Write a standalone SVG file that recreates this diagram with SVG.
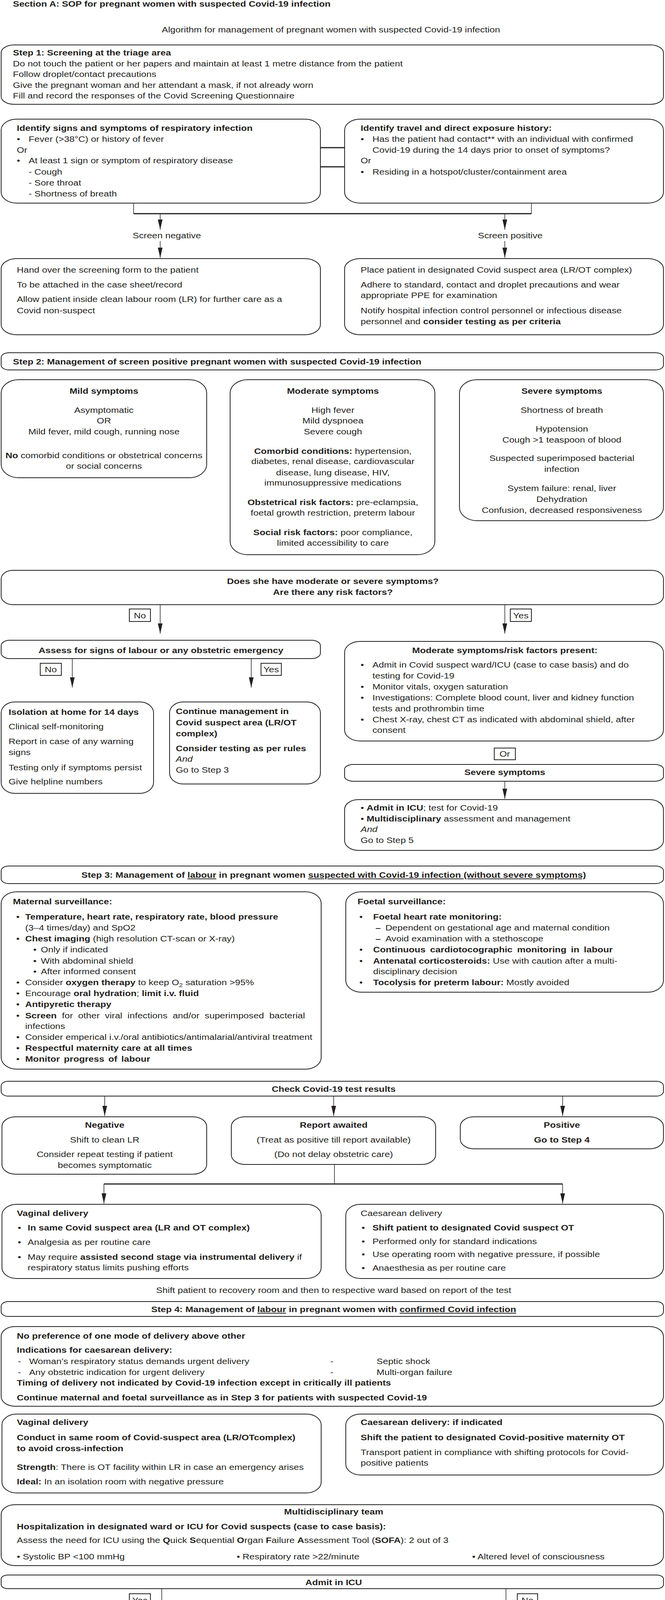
<svg xmlns="http://www.w3.org/2000/svg" width="1702" height="5280" viewBox="0 0 1702 5280">
<defs>
<style>
.t{font-family:"Liberation Sans",Arial,Helvetica,sans-serif;font-size:20px;fill:#231f20}
.b{font-weight:bold}
.i{font-style:italic}
.m{text-anchor:middle}
.u{text-decoration:underline}
.box{fill:#fff;stroke:#231f20;stroke-width:2}
.lbl{fill:#fff;stroke:#231f20;stroke-width:2}
.ln{fill:none;stroke:#231f20;stroke-width:1.5}
.bus{fill:none;stroke:#231f20;stroke-width:3}
.arr{fill:none;stroke:#231f20;stroke-width:1.5;marker-end:url(#ah)}
</style>
<marker id="ah" viewBox="0 0 26 12" refX="26" refY="6" markerWidth="26" markerHeight="12" markerUnits="userSpaceOnUse" orient="auto"><path d="M0,0 L26,6 L0,12 z" fill="#231f20"/></marker>
</defs>
<rect width="1702" height="5280" fill="#fff"/>

<g id="titleA"><text class="t b" transform="translate(33 17) scale(1.21 1)">Section A: SOP for pregnant women with suspected Covid-19 infection</text></g>
<g id="subtitle"><text class="t m" transform="translate(847 83) scale(1.21 1)">Algorithm for management of pregnant women with suspected Covid-19 infection</text></g>

<g id="step1">
<rect class="box" x="3" y="115" width="1695" height="152" rx="33" ry="20"/>
<g transform="translate(33 0) scale(1.21 1)">
<text class="t b" x="0" y="142">Step 1: Screening at the triage area</text>
<text class="t" x="0" y="170">Do not touch the patient or her papers and maintain at least 1 metre distance from the patient</text>
<text class="t" x="0" y="197">Follow droplet/contact precautions</text>
<text class="t" x="0" y="225">Give the pregnant woman and her attendant a mask, if not already worn</text>
<text class="t" x="0" y="252">Fill and record the responses of the Covid Screening Questionnaire</text>
</g></g>

<g id="signs">
<rect class="box" x="3" y="305" width="817" height="215" rx="40" ry="28"/>
<g transform="translate(43 0) scale(1.21 1)">
<text class="t b" x="0" y="335">Identify signs and symptoms of respiratory infection</text>
<text class="t" x="0" y="363">•</text><text class="t" x="25" y="363">Fever (&gt;38°C) or history of fever</text>
<text class="t" x="0" y="391">Or</text>
<text class="t" x="0" y="418">•</text><text class="t" x="25" y="418">At least 1 sign or symptom of respiratory disease</text>
<text class="t" x="25" y="447">- Cough</text>
<text class="t" x="25" y="475">- Sore throat</text>
<text class="t" x="25" y="503">- Shortness of breath</text>
</g></g>

<g id="travel">
<rect class="box" x="882" y="305" width="816" height="215" rx="40" ry="28"/>
<g transform="translate(923 0) scale(1.21 1)">
<text class="t b" x="0" y="335">Identify travel and direct exposure history:</text>
<text class="t" x="0" y="363">•</text><text class="t" x="25" y="363">Has the patient had contact** with an individual with confirmed</text>
<text class="t" x="25" y="391">Covid-19 during the 14 days prior to onset of symptoms?</text>
<text class="t" x="0" y="418">Or</text>
<text class="t" x="0" y="447">•</text><text class="t" x="25" y="447">Residing in a hotspot/cluster/containment area</text>
</g></g>

<g id="screenNeg">
<text class="t m" transform="translate(427 610) scale(1.21 1)">Screen negative</text>
</g>
<g id="screenPos">
<text class="t m" transform="translate(1306 610) scale(1.21 1)">Screen positive</text>
</g>

<g id="negBox">
<rect class="box" x="3" y="662" width="817" height="195" rx="40" ry="26"/>
<g transform="translate(43 0) scale(1.21 1)">
<text class="t" x="0" y="698">Hand over the screening form to the patient</text>
<text class="t" x="0" y="736">To be attached in the case sheet/record</text>
<text class="t" x="0" y="773">Allow patient inside clean labour room (LR) for further care as a</text>
<text class="t" x="0" y="802">Covid non-suspect</text>
</g></g>

<g id="posBox">
<rect class="box" x="882" y="662" width="816" height="195" rx="40" ry="26"/>
<g transform="translate(923 0) scale(1.21 1)">
<text class="t" x="0" y="698">Place patient in designated Covid suspect area (LR/OT complex)</text>
<text class="t" x="0" y="736">Adhere to standard, contact and droplet precautions and wear</text>
<text class="t" x="0" y="763">appropriate PPE for examination</text>
<text class="t" x="0" y="802">Notify hospital infection control personnel or infectious disease</text>
<text class="t" x="0" y="830">personnel and <tspan class="b">consider testing as per criteria</tspan></text>
</g></g>

<g id="step2">
<rect class="box" x="3" y="903" width="1695" height="44" rx="20" ry="12"/>
<text class="t b" transform="translate(33 933) scale(1.21 1)">Step 2: Management of screen positive pregnant women with suspected Covid-19 infection</text>
</g>

<g id="mild">
<rect class="box" x="3" y="972" width="526" height="251" rx="45" ry="34"/>
<g transform="translate(266 0) scale(1.21 1)">
<text class="t b m" x="0" y="1008">Mild symptoms</text>
<text class="t m" x="0" y="1057">Asymptomatic</text>
<text class="t m" x="0" y="1084">OR</text>
<text class="t m" x="0" y="1112">Mild fever, mild cough, running nose</text>
<text class="t m" x="0" y="1173"><tspan class="b">No</tspan> comorbid conditions or obstetrical concerns</text>
<text class="t m" x="0" y="1200">or social concerns</text>
</g></g>

<g id="moderate">
<rect class="box" x="589" y="972" width="524" height="448" rx="45" ry="34"/>
<g transform="translate(852 0) scale(1.21 1)">
<text class="t b m" x="0" y="1008">Moderate symptoms</text>
<text class="t m" x="0" y="1057">High fever</text>
<text class="t m" x="0" y="1084">Mild dyspnoea</text>
<text class="t m" x="0" y="1112">Severe cough</text>
<text class="t m" x="0" y="1162"><tspan class="b">Comorbid conditions:</tspan> hypertension,</text>
<text class="t m" x="0" y="1188">diabetes, renal disease, cardiovascular</text>
<text class="t m" x="0" y="1217">disease, lung disease, HIV,</text>
<text class="t m" x="0" y="1243">immunosuppressive medications</text>
<text class="t m" x="0" y="1293"><tspan class="b">Obstetrical risk factors:</tspan> pre-eclampsia,</text>
<text class="t m" x="0" y="1320">foetal growth restriction, preterm labour</text>
<text class="t m" x="0" y="1370"><tspan class="b">Social risk factors:</tspan> poor compliance,</text>
<text class="t m" x="0" y="1397">limited accessibility to care</text>
</g></g>

<g id="severe">
<rect class="box" x="1176" y="972" width="522" height="361" rx="45" ry="34"/>
<g transform="translate(1438 0) scale(1.21 1)">
<text class="t b m" x="0" y="1008">Severe symptoms</text>
<text class="t m" x="0" y="1057">Shortness of breath</text>
<text class="t m" x="0" y="1105">Hypotension</text>
<text class="t m" x="0" y="1133">Cough &gt;1 teaspoon of blood</text>
<text class="t m" x="0" y="1180">Suspected superimposed bacterial</text>
<text class="t m" x="0" y="1208">infection</text>
<text class="t m" x="0" y="1257">System failure: renal, liver</text>
<text class="t m" x="0" y="1285">Dehydration</text>
<text class="t m" x="0" y="1313">Confusion, decreased responsiveness</text>
</g></g>

<g id="decision">
<rect class="box" x="3" y="1460" width="1695" height="88" rx="30" ry="22"/>
<g transform="translate(852 0) scale(1.21 1)">
<text class="t b m" x="0" y="1495">Does she have moderate or severe symptoms?</text>
<text class="t b m" x="0" y="1523">Are there any risk factors?</text>
</g></g>

<g id="lblNo1"><rect class="lbl" x="331" y="1559" width="54" height="32"/><text class="t m" transform="translate(358 1583) scale(1.21 1)">No</text></g>
<g id="lblYes1"><rect class="lbl" x="1306" y="1559" width="54" height="32"/><text class="t m" transform="translate(1333 1583) scale(1.21 1)">Yes</text></g>

<g id="assessLabour">
<rect class="box" x="3" y="1639" width="817" height="47" rx="22" ry="14"/>
<text class="t b m" transform="translate(412 1672) scale(1.21 1)">Assess for signs of labour or any obstetric emergency</text>
</g>

<g id="lblNo2"><rect class="lbl" x="103" y="1698" width="54" height="31"/><text class="t m" transform="translate(130 1721) scale(1.21 1)">No</text></g>
<g id="lblYes2"><rect class="lbl" x="668" y="1698" width="52" height="31"/><text class="t m" transform="translate(694 1721) scale(1.21 1)">Yes</text></g>

<g id="moderatePresent">
<rect class="box" x="882" y="1642" width="816" height="255" rx="40" ry="28"/>
<text class="t b m" transform="translate(1292 1672) scale(1.21 1)">Moderate symptoms/risk factors present:</text>
<g transform="translate(923 0) scale(1.21 1)">
<text class="t" x="0" y="1709">•</text><text class="t" x="25" y="1709">Admit in Covid suspect ward/ICU (case to case basis) and do</text>
<text class="t" x="25" y="1737">testing for Covid-19</text>
<text class="t" x="0" y="1765">•</text><text class="t" x="25" y="1765">Monitor vitals, oxygen saturation</text>
<text class="t" x="0" y="1793">•</text><text class="t" x="25" y="1793">Investigations: Complete blood count, liver and kidney function</text>
<text class="t" x="25" y="1821">tests and prothrombin time</text>
<text class="t" x="0" y="1849">•</text><text class="t" x="25" y="1849">Chest X-ray, chest CT as indicated with abdominal shield, after</text>
<text class="t" x="25" y="1876">consent</text>
</g></g>

<g id="isolation">
<rect class="box" x="3" y="1797" width="390" height="234" rx="35" ry="28"/>
<g transform="translate(22 0) scale(1.21 1)">
<text class="t b" x="0" y="1830">Isolation at home for 14 days</text>
<text class="t" x="0" y="1867">Clinical self-monitoring</text>
<text class="t" x="0" y="1905">Report in case of any warning</text>
<text class="t" x="0" y="1933">signs</text>
<text class="t" x="0" y="1972">Testing only if symptoms persist</text>
<text class="t" x="0" y="2008">Give helpline numbers</text>
</g></g>

<g id="continueMgmt">
<rect class="box" x="434" y="1797" width="386" height="210" rx="35" ry="28"/>
<g transform="translate(450 0) scale(1.21 1)">
<text class="t b" x="0" y="1828">Continue management in</text>
<text class="t b" x="0" y="1857">Covid suspect area (LR/OT</text>
<text class="t b" x="0" y="1885">complex)</text>
<text class="t b" x="0" y="1923">Consider testing as per rules</text>
<text class="t i" x="0" y="1950">And</text>
<text class="t" x="0" y="1978">Go to Step 3</text>
</g></g>

<g id="lblOr"><rect class="lbl" x="1265" y="1915" width="54" height="30"/><text class="t m" transform="translate(1292 1937) scale(1.21 1)">Or</text></g>

<g id="severeHdr">
<rect class="box" x="882" y="1957" width="816" height="43" rx="22" ry="12"/>
<text class="t b m" transform="translate(1292 1984) scale(1.21 1)">Severe symptoms</text>
</g>

<g id="admitICU1">
<rect class="box" x="882" y="2047" width="816" height="130" rx="35" ry="25"/>
<g transform="translate(923 0) scale(1.21 1)">
<text class="t" x="0" y="2075">• <tspan class="b">Admit in ICU</tspan>; test for Covid-19</text>
<text class="t" x="0" y="2103">• <tspan class="b">Multidisciplinary</tspan> assessment and management</text>
<text class="t i" x="0" y="2130">And</text>
<text class="t" x="0" y="2158">Go to Step 5</text>
</g></g>

<g id="step3">
<rect class="box" x="3" y="2217" width="1695" height="45" rx="20" ry="12"/>
<text class="t b m" transform="translate(854 2247) scale(1.21 1)">Step 3: Management of <tspan class="u">labour</tspan> in pregnant women <tspan class="u">suspected with Covid-19 infection (without severe symptoms)</tspan></text>
</g>

<g id="maternal">
<rect class="box" x="3" y="2283" width="819" height="454" rx="40" ry="30"/>
<g transform="translate(33 0) scale(1.21 1)">
<text class="t b" x="0" y="2315">Maternal surveillance:</text>
<text class="t" x="7" y="2354">•</text><text class="t b" x="26" y="2354">Temperature, heart rate, respiratory rate, blood pressure</text>
<text class="t" x="26" y="2382">(3–4 times/day) and SpO2</text>
<text class="t" x="7" y="2410">•</text><text class="t" x="26" y="2410"><tspan class="b">Chest imaging</tspan> (high resolution CT-scan or X-ray)</text>
<text class="t" x="43" y="2438">•</text><text class="t" x="59" y="2438">Only if indicated</text>
<text class="t" x="43" y="2467">•</text><text class="t" x="59" y="2467">With abdominal shield</text>
<text class="t" x="43" y="2494">•</text><text class="t" x="59" y="2494">After informed consent</text>
<text class="t" x="7" y="2522">•</text><text class="t" x="26" y="2522">Consider <tspan class="b">oxygen therapy</tspan> to keep O<tspan font-size="14" dy="5">2</tspan><tspan dy="-5"> saturation &gt;95%</tspan></text>
<text class="t" x="7" y="2550">•</text><text class="t" x="26" y="2550">Encourage <tspan class="b">oral hydration</tspan>; <tspan class="b">limit i.v. fluid</tspan></text>
<text class="t" x="7" y="2578">•</text><text class="t b" x="26" y="2578">Antipyretic therapy</text>
<text class="t" x="7" y="2607">•</text><text class="t" x="26" y="2607" word-spacing="5.5"><tspan class="b">Screen</tspan> for other viral infections and/or superimposed bacterial</text>
<text class="t" x="26" y="2634">infections</text>
<text class="t" x="7" y="2662">•</text><text class="t" x="26" y="2662">Consider emperical i.v./oral antibiotics/antimalarial/antiviral treatment</text>
<text class="t" x="7" y="2690">•</text><text class="t b" x="26" y="2690">Respectful maternity care at all times</text>
<text class="t" x="7" y="2718">•</text><text class="t b" x="26" y="2718" word-spacing="3">Monitor progress of labour</text>
</g></g>

<g id="foetal">
<rect class="box" x="885" y="2283" width="813" height="257" rx="40" ry="30"/>
<g transform="translate(915 0) scale(1.21 1)">
<text class="t b" x="0" y="2315">Foetal surveillance:</text>
<text class="t" x="4" y="2354">•</text><text class="t b" x="33" y="2354">Foetal heart rate monitoring:</text>
<text class="t b" x="38" y="2382">–</text><text class="t" x="59" y="2382">Dependent on gestational age and maternal condition</text>
<text class="t b" x="38" y="2410">–</text><text class="t" x="59" y="2410">Avoid examination with a stethoscope</text>
<text class="t" x="4" y="2438">•</text><text class="t b" x="33" y="2438" word-spacing="4">Continuous cardiotocographic monitoring in labour</text>
<text class="t" x="4" y="2467">•</text><text class="t" x="33" y="2467"><tspan class="b">Antenatal corticosteroids:</tspan> Use with caution after a multi-</text>
<text class="t" x="33" y="2494">disciplinary decision</text>
<text class="t" x="4" y="2522">•</text><text class="t" x="33" y="2522"><tspan class="b">Tocolysis for preterm labour:</tspan> Mostly avoided</text>
</g></g>

<g id="checkTest">
<rect class="box" x="3" y="2768" width="1695" height="38" rx="18" ry="12"/>
<text class="t b m" transform="translate(854 2795) scale(1.21 1)">Check Covid-19 test results</text>
</g>

<g id="negative">
<rect class="box" x="5" y="2859" width="524" height="147" rx="35" ry="25"/>
<g transform="translate(268 0) scale(1.21 1)">
<text class="t b m" x="0" y="2887">Negative</text>
<text class="t m" x="0" y="2925">Shift to clean LR</text>
<text class="t m" x="0" y="2962">Consider repeat testing if patient</text>
<text class="t m" x="0" y="2990">becomes symptomatic</text>
</g></g>

<g id="awaited">
<rect class="box" x="592" y="2859" width="523" height="122" rx="35" ry="25"/>
<g transform="translate(854 0) scale(1.21 1)">
<text class="t b m" x="0" y="2887">Report awaited</text>
<text class="t m" x="0" y="2925">(Treat as positive till report available)</text>
<text class="t m" x="0" y="2962">(Do not delay obstetric care)</text>
</g></g>

<g id="positive">
<rect class="box" x="1178" y="2859" width="520" height="82" rx="35" ry="25"/>
<g transform="translate(1438 0) scale(1.21 1)">
<text class="t b m" x="0" y="2887">Positive</text>
<text class="t b m" x="0" y="2925">Go to Step 4</text>
</g></g>

<g id="vaginal3">
<rect class="box" x="5" y="3083" width="817" height="190" rx="38" ry="28"/>
<g transform="translate(43 0) scale(1.21 1)">
<text class="t b" x="0" y="3113">Vaginal delivery</text>
<text class="t" x="2" y="3150">•</text><text class="t b" x="23" y="3150">In same Covid suspect area (LR and OT complex)</text>
<text class="t" x="2" y="3187">•</text><text class="t" x="23" y="3187">Analgesia as per routine care</text>
<text class="t" x="2" y="3225">•</text><text class="t" x="23" y="3225">May require <tspan class="b">assisted second stage via instrumental delivery</tspan> if</text>
<text class="t" x="23" y="3252">respiratory status limits pushing efforts</text>
</g></g>

<g id="caesarean3">
<rect class="box" x="885" y="3083" width="813" height="190" rx="38" ry="28"/>
<g transform="translate(923 0) scale(1.21 1)">
<text class="t" x="0" y="3113">Caesarean delivery</text>
<text class="t" x="2" y="3150">•</text><text class="t b" x="25" y="3150">Shift patient to designated Covid suspect OT</text>
<text class="t" x="2" y="3185">•</text><text class="t" x="25" y="3185">Performed only for standard indications</text>
<text class="t" x="2" y="3218">•</text><text class="t" x="25" y="3218">Use operating room with negative pressure, if possible</text>
<text class="t" x="2" y="3253">•</text><text class="t" x="25" y="3253">Anaesthesia as per routine care</text>
</g></g>

<g id="shiftNote"><text class="t m" transform="translate(854 3310) scale(1.21 1)">Shift patient to recovery room and then to respective ward based on report of the test</text></g>

<g id="step4">
<rect class="box" x="3" y="3332" width="1695" height="38" rx="18" ry="12"/>
<text class="t b m" transform="translate(854 3359) scale(1.21 1)">Step 4: Management of <tspan class="u">labour</tspan> in pregnant women with <tspan class="u">confirmed Covid infection</tspan></text>
</g>

<g id="step4info">
<rect class="box" x="3" y="3396" width="1695" height="204" rx="35" ry="25"/>
<g transform="translate(43 0) scale(1.21 1)">
<text class="t b" x="0" y="3427">No preference of one mode of delivery above other</text>
<text class="t b" x="0" y="3463">Indications for caesarean delivery:</text>
<text class="t" x="2" y="3492">-</text><text class="t" x="26" y="3492">Woman’s respiratory status demands urgent delivery</text>
<text class="t" x="2" y="3520">-</text><text class="t" x="26" y="3520">Any obstetric indication for urgent delivery</text>
<text class="t" x="663" y="3492">-</text><text class="t" x="761" y="3492">Septic shock</text>
<text class="t" x="663" y="3520">-</text><text class="t" x="761" y="3520">Multi-organ failure</text>
<text class="t b" x="0" y="3547">Timing of delivery not indicated by Covid-19 infection except in critically ill patients</text>
<text class="t b" x="0" y="3585">Continue maternal and foetal surveillance as in Step 3 for patients with suspected Covid-19</text>
</g></g>

<g id="vaginal4">
<rect class="box" x="5" y="3620" width="817" height="202" rx="38" ry="28"/>
<g transform="translate(43 0) scale(1.21 1)">
<text class="t b" x="0" y="3648">Vaginal delivery</text>
<text class="t b" x="0" y="3687">Conduct in same room of Covid-suspect area (LR/OTcomplex)</text>
<text class="t b" x="0" y="3715">to avoid cross-infection</text>
<text class="t" x="0" y="3763"><tspan class="b">Strength</tspan>: There is OT facility within LR in case an emergency arises</text>
<text class="t" x="0" y="3800"><tspan class="b">Ideal:</tspan> In an isolation room with negative pressure</text>
</g></g>

<g id="caesarean4">
<rect class="box" x="885" y="3620" width="813" height="156" rx="38" ry="28"/>
<g transform="translate(923 0) scale(1.21 1)">
<text class="t b" x="0" y="3648">Caesarean delivery: if indicated</text>
<text class="t b" x="0" y="3687">Shift the patient to designated Covid-positive maternity OT</text>
<text class="t" x="0" y="3725">Transport patient in compliance with shifting protocols for Covid-</text>
<text class="t" x="0" y="3752">positive patients</text>
</g></g>

<g id="mdt">
<rect class="box" x="3" y="3852" width="1695" height="156" rx="35" ry="25"/>
<text class="t b m" transform="translate(854 3877) scale(1.21 1)">Multidisciplinary team</text>
<g transform="translate(43 0) scale(1.21 1)">
<text class="t b" x="0" y="3915">Hospitalization in designated ward or ICU for Covid suspects (case to case basis):</text>
<text class="t" x="0" y="3950">Assess the need for ICU using the <tspan class="b">Q</tspan>uick <tspan class="b">S</tspan>equential <tspan class="b">O</tspan>rgan <tspan class="b">F</tspan>ailure <tspan class="b">A</tspan>ssessment Tool (<tspan class="b">SOFA</tspan>): 2 out of 3</text>
<text class="t" x="0" y="3992">• Systolic BP &lt;100 mmHg</text>
<text class="t" x="465" y="3992">• Respiratory rate &gt;22/minute</text>
<text class="t" x="963" y="3992">• Altered level of consciousness</text>
</g></g>

<g id="admitICU2">
<rect class="box" x="3" y="4032" width="1695" height="35" rx="18" ry="10"/>
<text class="t b m" transform="translate(854 4058) scale(1.21 1)">Admit in ICU</text>
</g>

<g id="lblYes3"><rect class="lbl" x="331" y="4080" width="54" height="32"/><text class="t m" transform="translate(358 4104) scale(1.21 1)">Yes</text></g>
<g id="lblNo3"><rect class="lbl" x="1324" y="4080" width="52" height="32"/><text class="t m" transform="translate(1350 4104) scale(1.21 1)">No</text></g>

<g id="stabilize">
<rect class="box" x="5" y="4133" width="817" height="118" rx="25" ry="15"/>
<g transform="translate(43 0) scale(1.21 1)">
<text class="t b" x="0" y="4160">Stabilize the woman</text>
<text class="t b" x="0" y="4198">Delivery:</text>
<text class="t" x="2" y="4227">•</text><text class="t b" x="26" y="4227">Caesarean section: if indicated as above</text>
</g></g>

<g id="intensive">
<rect class="box" x="885" y="4133" width="813" height="120" rx="25" ry="15"/>
<g transform="translate(923 0) scale(1.21 1)">
<text class="t b" x="0" y="4160">Continue intensive clinical maternal and foetal monitoring</text>
<text class="t b" x="0" y="4198">Assess for signs of labour</text>
<text class="t b" x="0" y="4237">Intrapartum care same as in Step 4</text>
</g></g>

<g id="note">
<rect class="box" x="3" y="4284" width="1695" height="71" rx="30" ry="18"/>
<g transform="translate(43 0) scale(1.21 1)">
<text class="t" x="0" y="4313"><tspan class="b">Note:</tspan> Confirmed Covid-19-infected pregnant patients who require ICU should be admitted or transported to a designated Covid facility (Trauma centre,</text>
<text class="t" x="0" y="4340">AIIMS, New Delhi)</text>
</g></g>

<g id="titleB"><text class="t b m" transform="translate(852 4410) scale(1.21 1)">Section B: Management of pregnant women with <tspan class="u">confirmed Covid-19 infection and asymptomatic</tspan></text></g>

<g id="assessB">
<rect class="box" x="3" y="4448" width="1695" height="36" rx="18" ry="10"/>
<text class="t m" transform="translate(852 4474) scale(1.21 1)">Assess comorbid conditions and obstetric emergency or labour</text>
</g>

<g id="lblNo4"><rect class="lbl" x="329" y="4497" width="54" height="31"/><text class="t m" transform="translate(356 4520) scale(1.21 1)">No</text></g>
<g id="lblYes4"><rect class="lbl" x="1322" y="4497" width="54" height="31"/><text class="t m" transform="translate(1349 4520) scale(1.21 1)">Yes</text></g>

<g id="homeIso">
<rect class="box" x="5" y="4549" width="815" height="175" rx="22" ry="14"/>
<g transform="translate(43 0) scale(1.21 1)">
<text class="t" x="0" y="4577">Currently all Covid-positive patients are being admitted even if</text>
<text class="t" x="0" y="4604">asymptomatic</text>
<text class="t" x="0" y="4643"><tspan class="b">Home isolation for 14 days/quarantine facility</tspan>/clinical self-</text>
<text class="t" x="0" y="4670">monitoring may be considered at a later stage</text>
<text class="t" x="0" y="4707">Ultrasound for foetal growth and doppler after 2 weeks</text>
</g></g>

<g id="facility">
<rect class="box" x="882" y="4549" width="816" height="174" rx="22" ry="14"/>
<g transform="translate(923 0) scale(1.21 1)">
<text class="t b" x="0" y="4577">Admit in a designated Covid facility</text>
<text class="t" x="0" y="4604">(Trauma Centre, AIIMS, New Delhi)</text>
<text class="t" x="0" y="4642">Management depends on:</text>
<text class="t" x="0" y="4680">• Condition of mother</text>
<text class="t" x="273" y="4680">• Condition of foetus</text>
</g></g>

<g id="mdtB">
<rect class="box" x="3" y="4742" width="1695" height="72" rx="30" ry="18"/>
<g transform="translate(43 0) scale(1.21 1)">
<text class="t" x="2" y="4770">•</text><text class="t" x="23" y="4770">Multidisciplinary team management</text>
<text class="t" x="2" y="4797">•</text><text class="t" x="23" y="4797">Decision for delivery depending on gestational age and the condition of the mother and the baby</text>
</g></g>

<g id="titleC"><text class="t b m" transform="translate(852 4853) scale(1.21 1)">Section C: Postnatal care and advice for women with suspected or confirmed Covid-19 infection</text></g>

<g id="postnatal">
<rect class="box" x="3" y="4872" width="1695" height="405" rx="20" ry="12"/>
<g transform="translate(43 0) scale(1.21 1)">
<text class="t b" x="0" y="4898">Postnatal care:</text>
<text class="t" x="0" y="4937">•</text><text class="t b" x="15" y="4937">Continue contact precautions</text>
<text class="t b" x="18" y="4965">–</text><text class="t" x="48" y="4965">Hand hygiene</text>
<text class="t b" x="290" y="4965">–</text><text class="t" x="319" y="4965">Mother to wear mask</text>
<text class="t b" x="603" y="4965">–</text><text class="t" x="631" y="4965">Around 2 m distance between mother and the baby</text>
<text class="t" x="0" y="5003">•</text><text class="t b" x="15" y="5003">Monitor maternal vitals and vaginal bleeding</text>
<text class="t" x="0" y="5040">•</text><text class="t b" x="15" y="5040">Discuss with the neonatologist and the woman and decide about:</text>
<text class="t b" x="18" y="5068">–</text><text class="t" x="48" y="5068">Skin to skin contact</text>
<text class="t b" x="18" y="5097">–</text><text class="t" x="48" y="5097">Care of the baby (separation)</text>
<text class="t b" x="18" y="5125">–</text><text class="t" x="48" y="5125">Feeding options:</text>
<text class="t" x="48" y="5153">-</text><text class="t" x="68" y="5153">Breastfeeding: Use contact/droplet precautions</text>
<text class="t" x="48" y="5180">-</text><text class="t" x="68" y="5180">Expressed breast milk: Use precautions and follow infection control practices</text>
<text class="t" x="48" y="5208">-</text><text class="t" x="68" y="5208">Formula feed</text>
</g></g>

<g id="connectors">
<line class="bus" x1="820" y1="378" x2="882" y2="378"/>
<line class="bus" x1="820" y1="427" x2="882" y2="427"/>
<line class="ln" x1="342" y1="520" x2="342" y2="547"/>
<line class="ln" x1="1360" y1="520" x2="1360" y2="547"/>
<line class="bus" x1="342" y1="547" x2="1360" y2="547"/>
<line class="arr" x1="410" y1="547" x2="410" y2="588"/>
<line class="arr" x1="410" y1="617" x2="410" y2="660"/>
<line class="arr" x1="1292" y1="547" x2="1292" y2="588"/>
<line class="arr" x1="1292" y1="617" x2="1292" y2="660"/>
<line class="arr" x1="410" y1="1548" x2="410" y2="1622"/>
<line class="arr" x1="1292" y1="1548" x2="1292" y2="1622"/>
<line class="arr" x1="185" y1="1686" x2="185" y2="1760"/>
<line class="arr" x1="643" y1="1686" x2="643" y2="1760"/>
<line class="arr" x1="1292" y1="2000" x2="1292" y2="2045"/>
<line class="arr" x1="268" y1="2806" x2="268" y2="2857"/>
<line class="arr" x1="854" y1="2806" x2="854" y2="2857"/>
<line class="arr" x1="1440" y1="2806" x2="1440" y2="2857"/>
<line class="ln" x1="856" y1="2981" x2="856" y2="3031"/>
<line class="bus" x1="266" y1="3031" x2="1440" y2="3031"/>
<line class="arr" x1="266" y1="3031" x2="266" y2="3081"/>
<line class="arr" x1="1440" y1="3031" x2="1440" y2="3081"/>
<line class="arr" x1="414" y1="4067" x2="414" y2="4131"/>
<line class="arr" x1="1295" y1="4067" x2="1295" y2="4131"/>
<line class="arr" x1="412" y1="4484" x2="412" y2="4547"/>
<line class="arr" x1="1294" y1="4484" x2="1294" y2="4547"/>
</g>
</svg>
